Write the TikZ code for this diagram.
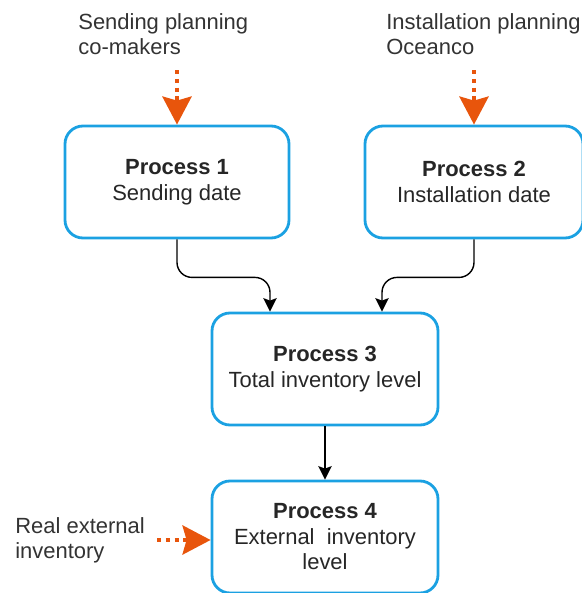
\documentclass[tikz,border=0pt]{standalone}
\usepackage{fontspec}
\setmainfont{Liberation Sans}
\usepackage{xcolor}
\usetikzlibrary{arrows.meta,calc}
\definecolor{boxblue}{RGB}{27,161,226}
\definecolor{feedorange}{RGB}{232,85,12}
\tikzset{
  process/.style={
    draw = boxblue,
    line width = 1.6pt,
    rounded corners = 0.36cm,
    minimum height = 2.24cm,
    align = center,
    text = black!85,
    font = \fontsize{12.5}{14.5}\selectfont
  },
  plan/.style={
    inner sep = 0pt,
    align = left,
    anchor = north west,
    text = black!80,
    font = \fontsize{12.5}{14.5}\selectfont
  },
  feed/.style={
    draw = feedorange,
    line width = 2.4pt,
    dash pattern = on 2.4pt off 2.6pt,
    -{Stealth[length=0.56cm,width=0.58cm,inset=0.08cm,fill=feedorange]}
  },
  link/.style={
    line width = 0.8pt,
    rounded corners = 0.3cm,
    -{Stealth[length=0.27cm,width=0.27cm,inset=0.05cm]}
  }
}
\begin{document}
\begin{tikzpicture}
    \useasboundingbox (0,0) rectangle (11.64,-11.86);
    % the four process boxes
    \node[process, minimum width=4.48cm] (p1) at (3.54,-3.64) {\textbf{Process 1}\\Sending date};
    \node[process, minimum width=4.36cm] (p2) at (9.48,-3.64) {\textbf{Process 2}\\Installation date};
    \node[process, minimum width=4.52cm] (p3) at (6.50,-7.38) {\textbf{Process 3}\\Total inventory level};
    \node[process, minimum width=4.52cm] (p4) at (6.50,-10.74) {\textbf{Process 4}\\External\ \ inventory\\level};
    % inputs from outside
    \node[plan] (send) at (1.56,-0.26) {Sending planning\\co-makers};
    \node[plan] (inst) at (7.72,-0.26) {Installation planning\\Oceanco};
    \node[plan] (real) at (0.30,-10.34) {Real external\\inventory};
    \coordinate (sendend) at (3.54,-1.40);
    \coordinate (instend) at (9.48,-1.40);
    \coordinate (realend) at (3.14,-10.80);
    \draw[feed] (sendend) -- (p1.north);
    \draw[feed] (instend) -- (p2.north);
    \draw[feed] (realend) -- (p4.west |- realend);
    % flow between the processes
    \draw[link] (p1.south) -- ++(0,-0.76) -| ([xshift=-1.10cm]p3.north);
    \draw[link] (p2.south) -- ++(0,-0.76) -| ([xshift=1.14cm]p3.north);
    \draw[link] (p3) -- (p4);
\end{tikzpicture}
\end{document}
